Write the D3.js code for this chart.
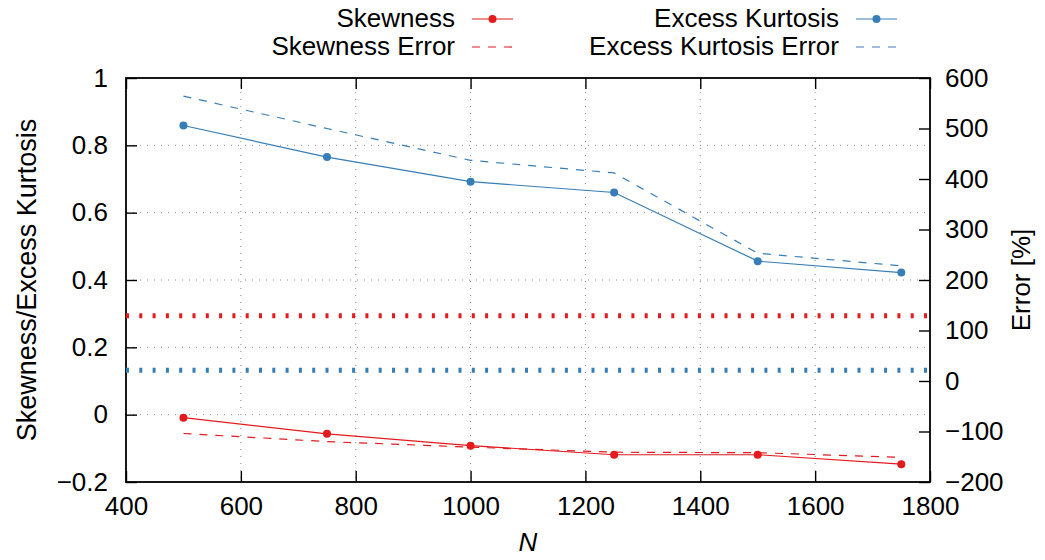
<!DOCTYPE html>
<html>
<head>
<meta charset="utf-8">
<script src="https://cdn.jsdelivr.net/npm/d3@7"></script>
<style>
  body { margin: 0; background: #fff; }
</style>
</head>
<body>
<div class="chart"></div>
<script>
// data
var sampleSizes = [500, 750, 1000, 1250, 1500, 1750];
var skewness = [-0.009, -0.057, -0.092, -0.119, -0.119, -0.147];
var kurtosis = [0.859, 0.765, 0.692, 0.660, 0.456, 0.422];
var skewnessError = [-104, -120, -131, -141, -142, -151];
var kurtosisError = [564, 500, 437, 412, 253, 228];
var skewRef = 0.294;
var kurtRef = 0.132;

var xTicks = [400, 600, 800, 1000, 1200, 1400, 1600, 1800];
var yTicks = [-0.2, 0, 0.2, 0.4, 0.6, 0.8, 1];
var y2Ticks = [-200, -100, 0, 100, 200, 300, 400, 500, 600];

var red = "#e41a1c";
var blue = "#377eb8";
var font = "'Liberation Sans', Arial, sans-serif";

var svgWidth = 1045;
var svgHeight = 560;
var margin = { top: 78, right: 115, bottom: 78, left: 126 };
var width = 930 - margin.left;
var height = 482 - margin.top;

var svg = d3.select(".chart")
  .append("svg")
  .attr("width", svgWidth)
  .attr("height", svgHeight)
  .style("font-family", font);

var chartGroup = svg.append("g")
  .attr("transform", `translate(${margin.left}, ${margin.top})`);

var x = d3.scaleLinear().domain([400, 1800]).range([0, width]);
var y = d3.scaleLinear().domain([-0.2, 1]).range([height, 0]);
var y2 = d3.scaleLinear().domain([-200, 600]).range([height, 0]);

function fmt(v) {
  var s = d3.format("")(+v.toFixed(2));
  return s.replace("-", "\u2212");
}

// grid
var grid = chartGroup.append("g").attr("class", "grid");
grid.selectAll(".gx")
  .data(xTicks.slice(1, -1))
  .enter().append("line")
  .attr("x1", d => x(d)).attr("x2", d => x(d))
  .attr("y1", 0).attr("y2", height);
grid.selectAll(".gy")
  .data(yTicks.slice(1, -1))
  .enter().append("line")
  .attr("x1", 0).attr("x2", width)
  .attr("y1", d => y(d)).attr("y2", d => y(d));
grid.selectAll("line")
  .attr("stroke", "#8a8a8a")
  .attr("stroke-width", 1)
  .attr("stroke-dasharray", "1,6");

// axes, ticks pointing inward
var tick = 11;
var bottomAxis = d3.axisBottom(x).tickValues(xTicks).tickSizeInner(-tick).tickSizeOuter(0).tickPadding(10).tickFormat(d3.format("d"));
var topAxis = d3.axisTop(x).tickValues(xTicks).tickSizeInner(-tick).tickSizeOuter(0).tickFormat("");
var leftAxis = d3.axisLeft(y).tickValues(yTicks).tickSizeInner(-tick).tickSizeOuter(0).tickPadding(18).tickFormat(fmt);
var rightAxis = d3.axisRight(y2).tickValues(y2Ticks).tickSizeInner(-tick).tickSizeOuter(0).tickPadding(15).tickFormat(fmt);

var axes = [
  chartGroup.append("g").attr("transform", `translate(0, ${height})`).call(bottomAxis),
  chartGroup.append("g").call(topAxis),
  chartGroup.append("g").call(leftAxis),
  chartGroup.append("g").attr("transform", `translate(${width}, 0)`).call(rightAxis)
];
axes.forEach(function(a) {
  a.attr("font-family", null).attr("font-size", null);
  a.select(".domain").remove();
  a.selectAll(".tick line").attr("stroke", "#000").attr("stroke-width", 1.4);
  a.selectAll(".tick text").attr("fill", "#000")
    .style("font-family", font).style("font-size", "26px");
});
axes[0].selectAll(".tick text").attr("dy", "0.9em");

// frame
chartGroup.append("rect")
  .attr("width", width).attr("height", height)
  .attr("fill", "none").attr("stroke", "#000").attr("stroke-width", 1.8);

// reference lines
[[skewRef, red], [kurtRef, blue]].forEach(function(r) {
  chartGroup.append("line")
    .attr("x1", 0).attr("x2", width)
    .attr("y1", y(r[0])).attr("y2", y(r[0]))
    .attr("stroke", r[1])
    .attr("stroke-width", 5)
    .attr("stroke-dasharray", "3,10.3");
});

// series
function series(values, scale, color, dashed, markers) {
  var line = d3.line()
    .x((d, i) => x(sampleSizes[i]))
    .y(d => scale(d));
  chartGroup.append("path")
    .datum(values)
    .attr("d", line)
    .attr("fill", "none")
    .attr("stroke", color)
    .attr("stroke-width", 1.2)
    .attr("stroke-dasharray", dashed ? "8,8" : null);
  if (markers) {
    chartGroup.selectAll(null)
      .data(values)
      .enter().append("circle")
      .attr("cx", (d, i) => x(sampleSizes[i]))
      .attr("cy", d => scale(d))
      .attr("r", 4)
      .attr("fill", color);
  }
}
series(skewnessError, y2, red, true, false);
series(kurtosisError, y2, blue, true, false);
series(skewness, y, red, false, true);
series(kurtosis, y, blue, false, true);

// axis titles
function label(sel) {
  return sel.style("font-family", font).style("font-size", "26px").attr("fill", "#000");
}
label(svg.append("text"))
  .attr("transform", `translate(36, ${margin.top + height / 2}) rotate(-90)`)
  .attr("text-anchor", "middle")
  .style("font-size", "27px")
  .text("Skewness/Excess Kurtosis");

label(svg.append("text"))
  .attr("transform", `translate(1030, ${margin.top + height / 2}) rotate(-90)`)
  .attr("text-anchor", "middle")
  .text("Error [%]");

label(svg.append("text"))
  .attr("x", margin.left + width / 2)
  .attr("y", 551)
  .attr("text-anchor", "middle")
  .style("font-style", "italic")
  .text("N");

// legend
var legendItems = [
  { label: "Skewness", color: red, dashed: false, x: 455, y: 27 },
  { label: "Excess Kurtosis", color: blue, dashed: false, x: 839, y: 27 },
  { label: "Skewness Error", color: red, dashed: true, x: 455, y: 55 },
  { label: "Excess Kurtosis Error", color: blue, dashed: true, x: 839, y: 55 }
];
var legend = svg.append("g");
legendItems.forEach(function(d) {
  label(legend.append("text"))
    .attr("x", d.x).attr("y", d.y)
    .attr("text-anchor", "end")
    .text(d.label);
  legend.append("line")
    .attr("x1", d.x + 17).attr("x2", d.x + 58)
    .attr("y1", d.y - 8).attr("y2", d.y - 8)
    .attr("stroke", d.color)
    .attr("stroke-width", 1.2)
    .attr("stroke-dasharray", d.dashed ? "8,8" : null);
  if (!d.dashed) {
    legend.append("circle")
      .attr("cx", d.x + 37.5).attr("cy", d.y - 8)
      .attr("r", 4).attr("fill", d.color);
  }
});
</script>
</body>
</html>
